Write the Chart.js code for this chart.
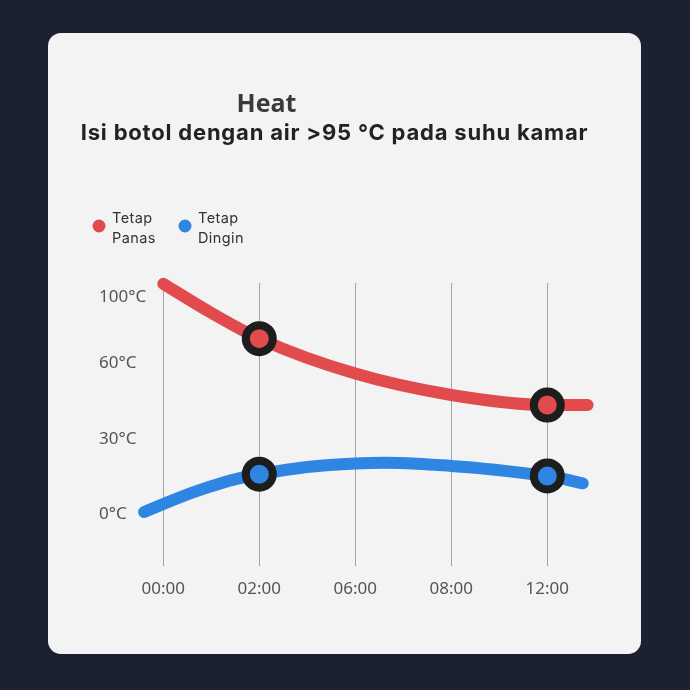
<!DOCTYPE html>
<html><head><meta charset="utf-8">
<script src="https://cdn.jsdelivr.net/npm/chart.js@4.4.1/dist/chart.umd.min.js"></script>
<style>
html,body{margin:0;padding:0;background:#1b2131;width:690px;height:690px;overflow:hidden;}
#card{position:absolute;left:48px;top:33px;width:593px;height:621px;background:#f3f3f3;border-radius:13px;}
#wrap{position:absolute;left:0;top:0;width:690px;height:690px;}
</style></head><body>
<div id="card"></div>
<div id="wrap"><canvas id="c" width="690" height="690"></canvas></div>
<script>
// ---- data ----
const titleText = 'Heat';
const subtitleText = 'Isi botol dengan air >95 °C pada suhu kamar';
const timeLabels = ['00:00', '02:00', '06:00', '08:00', '12:00'];
const tempTicks = [0, 30, 60, 100];
const hotName = ['Tetap', 'Panas'];
const coldName = ['Tetap', 'Dingin'];
const hotX = [0, 0.5, 1, 2, 3, 4, 4.42];
const hotTemp = [108, 90.5, 75, 56, 47.5, 43.5, 43.5];
const coldX = [-0.2, 0.4, 1, 2, 3, 4, 4.37];
const coldTemp = [1, 10, 16, 20.3, 19.3, 15.3, 12.4];
const markedTimes = ['02:00', '12:00'];

// ---- piecewise temperature scale (tick labels are not evenly spaced in °C) ----
class PiecewiseScale extends Chart.LinearScale {
  static id = 'piecewise';
  static defaults = {};
  _seg(v, a, b) {
    const n = a.length; let i = 0;
    if (v <= a[0]) i = 0; else if (v >= a[n - 1]) i = n - 2; else { while (v > a[i + 1]) i++; }
    return b[i] + (v - a[i]) * (b[i + 1] - b[i]) / (a[i + 1] - a[i]);
  }
  _u(v) { return this._seg(v, this.options.breaks, this.options.steps); }
  _inv(u) { return this._seg(u, this.options.steps, this.options.breaks); }
  getPixelForValue(v) {
    if (v === null || v === undefined || isNaN(v)) return NaN;
    const u0 = this._u(this.min), u1 = this._u(this.max);
    return this.getPixelForDecimal((this._u(v) - u0) / (u1 - u0));
  }
  getValueForPixel(p) {
    const u0 = this._u(this.min), u1 = this._u(this.max);
    return this._inv(u0 + this.getDecimalForPixel(p) * (u1 - u0));
  }
}
Chart.register(PiecewiseScale);

const markedPos = markedTimes.map(t => timeLabels.indexOf(t));
const isMarked = ctx => ctx.raw && markedPos.includes(ctx.raw.x);

const RED = '#e24b4d', BLUE = '#2f86e2', RING = '#1d1d1d';

const headerPlugin = {
  id: 'header',
  afterDraw(chart) {
    const ctx = chart.ctx;
    ctx.save();
    ctx.textAlign = 'center';
    ctx.textBaseline = 'alphabetic';
    ctx.fillStyle = '#3a3a3a';
    ctx.font = '700 25px "Open Sans"';
    ctx.fillText(titleText, 266.5, 112);
    ctx.fillStyle = '#222222';
    ctx.font = '700 22px Inter';
    ctx.letterSpacing = '0.8px';
    ctx.fillText(subtitleText, 334.5, 140);
    // legend
    const lx = [99, 185];
    ctx.textAlign = 'left';
    ctx.font = '400 14.5px Inter';
    ctx.letterSpacing = '0.4px';
    chart.data.datasets.forEach((ds, i) => {
      ctx.fillStyle = ds.borderColor;
      ctx.beginPath();
      ctx.arc(lx[i], 226, 6.5, 0, Math.PI * 2);
      ctx.fill();
      ctx.fillStyle = '#333333';
      ds.label.forEach((line, j) => ctx.fillText(line, lx[i] + 13, 223 + j * 19.5));
    });
    ctx.letterSpacing = '0px';
    ctx.restore();
  }
};

new Chart(document.getElementById('c'), {
  type: 'line',
  data: {
    datasets: [
      {
        label: hotName,
        data: hotX.map((x, i) => ({ x, y: hotTemp[i] })),
        borderColor: RED, backgroundColor: RED,
        borderWidth: 12, borderCapStyle: 'round', cubicInterpolationMode: 'monotone', clip: false,
        pointRadius: c => isMarked(c) ? 13.5 : 0,
        pointHoverRadius: c => isMarked(c) ? 13.5 : 0,
        pointBorderWidth: 8, pointHoverBorderWidth: 8,
        pointBorderColor: RING, pointBackgroundColor: RED
      },
      {
        label: coldName,
        data: coldX.map((x, i) => ({ x, y: coldTemp[i] })),
        borderColor: BLUE, backgroundColor: BLUE,
        borderWidth: 12, borderCapStyle: 'round', tension: 0.4, clip: false,
        pointRadius: c => isMarked(c) ? 13.5 : 0,
        pointHoverRadius: c => isMarked(c) ? 13.5 : 0,
        pointBorderWidth: 8, pointHoverBorderWidth: 8,
        pointBorderColor: RING, pointBackgroundColor: BLUE
      }
    ]
  },
  options: {
    responsive: false,
    animation: false,
    events: [],
    layout: { padding: { left: 99, right: 94.7, top: 283, bottom: 74 } },
    plugins: { legend: { display: false }, title: { display: false }, tooltip: { enabled: false } },
    scales: {
      x: {
        type: 'linear', min: -0.1, max: 4.5,
        afterBuildTicks: s => { s.ticks = timeLabels.map((_, i) => ({ value: i })); },
        afterFit: s => { s.height = 60; },
        grid: { color: '#a3a3a3', lineWidth: 1, drawTicks: true, tickLength: 10, tickColor: '#a3a3a3' },
        border: { display: false },
        ticks: {
          padding: 13, color: '#555555', maxRotation: 0, autoSkip: false,
          font: { family: 'Noto Sans', size: 17 },
          callback: v => timeLabels[v] ?? ''
        }
      },
      y: {
        type: 'piecewise', breaks: tempTicks, steps: [0, 1, 2, 2.88],
        min: -16.5, max: 108.5,
        afterBuildTicks: s => { s.ticks = tempTicks.map(v => ({ value: v })); },
        afterFit: s => { s.width = 54.7; },
        grid: { display: false, drawTicks: false },
        border: { display: false },
        ticks: {
          crossAlign: 'far', padding: 0, color: '#555555',
          font: { family: 'Noto Sans', size: 17 },
          callback: v => v + '°C'
        }
      }
    }
  },
  plugins: [headerPlugin]
});
</script>
</body></html>
